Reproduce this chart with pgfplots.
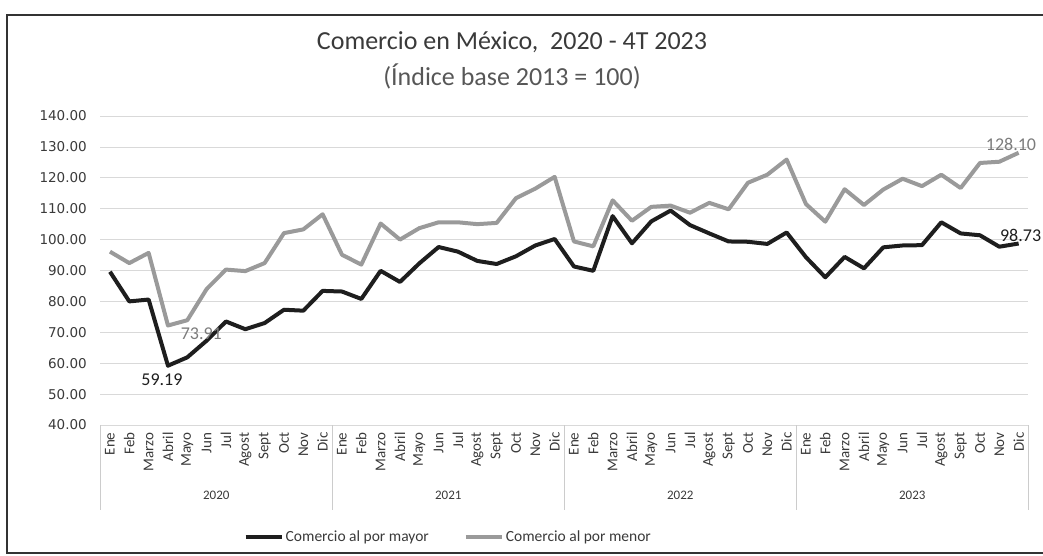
\documentclass[border=0pt]{standalone}
\usepackage{fontspec}
\setmainfont{Carlito}
\newfontfamily\dejavu{DejaVu Sans}
\usepackage{pgfplots}
\pgfplotsset{compat=1.18}
\definecolor{mayor}{HTML}{1E1E1E}
\definecolor{menor}{HTML}{9A9A9A}
\definecolor{txt}{HTML}{3A3A3A}
\begin{document}
\begin{tikzpicture}[x=1pt,y=1pt]
\useasboundingbox (0,0) rectangle (1043,-556);
\draw[line width=1.5pt, black!80] (1060,-15) -- (7,-15) -- (7,-553) -- (1060,-553);
\node[font=\fontsize{26}{30}\selectfont, text=txt] at (512,-42) {Comercio en México,\ \ 2020 - 4T 2023};
\node[font=\fontsize{26}{30}\selectfont, text=txt!85] at (512,-76) {(Índice base 2013 = 100)};
\begin{axis}[
  at={(100.3pt,-425pt)}, anchor=south west,
  scale only axis, width=928pt, height=309pt,
  xmin=-0.5, xmax=47.5, ymin=40, ymax=140,
  clip=false,
  axis line style={draw=none},
  major tick length=0pt,
  ymajorgrids, grid style={line width=0.8pt, gray!30},
  ytick={40,50,...,140},
  /pgf/number format/assume math mode=true,
  y tick label style={/pgf/number format/.cd, fixed, fixed zerofill, precision=2, /tikz/.cd,
    font=\dejavu\fontsize{13.5}{16}\selectfont, text=txt},
  yticklabel shift=10pt,
  xtick={0,...,47},
  xticklabels={Ene,Feb,Marzo,Abril,Mayo,Jun,Jul,Agost,Sept,Oct,Nov,Dic,
               Ene,Feb,Marzo,Abril,Mayo,Jun,Jul,Agost,Sept,Oct,Nov,Dic,
               Ene,Feb,Marzo,Abril,Mayo,Jun,Jul,Agost,Sept,Oct,Nov,Dic,
               Ene,Feb,Marzo,Abril,Mayo,Jun,Jul,Agost,Sept,Oct,Nov,Dic},
  x tick label style={rotate=90, anchor=east, font=\fontsize{15}{17}\selectfont, text=txt},
  xticklabel shift=4pt,
  legend style={at={(0.375,-0.362)}, anchor=center, draw=none, legend columns=2,
    font=\fontsize{15.5}{18}\selectfont, text=txt,
    /tikz/every even column/.append style={column sep=33pt}},
  legend image code/.code={\draw[#1, line width=4pt] (0pt,0pt) -- (36pt,0pt);},
]
\addplot[mayor, line width=4pt, line join=round] coordinates {
(0,89.6)(1,80.0)(2,80.6)(3,59.19)(4,61.9)(5,67.3)(6,73.5)(7,71.0)(8,73.0)(9,77.3)(10,77.0)(11,83.4)
(12,83.2)(13,80.8)(14,89.9)(15,86.3)(16,92.3)(17,97.6)(18,96.1)(19,93.1)(20,92.1)(21,94.6)(22,98.1)(23,100.2)
(24,91.3)(25,89.9)(26,107.6)(27,98.8)(28,105.9)(29,109.4)(30,104.7)(31,102.0)(32,99.4)(33,99.3)(34,98.6)(35,102.3)
(36,94.3)(37,87.8)(38,94.4)(39,90.7)(40,97.5)(41,98.1)(42,98.2)(43,105.6)(44,102.0)(45,101.4)(46,97.7)(47,98.73)};
\addlegendentry{Comercio al por mayor}
\addplot[menor, line width=4pt, line join=round] coordinates {
(0,96.1)(1,92.4)(2,95.7)(3,72.2)(4,73.91)(5,84.0)(6,90.3)(7,89.8)(8,92.4)(9,102.1)(10,103.3)(11,108.2)
(12,95.1)(13,91.9)(14,105.2)(15,100.0)(16,103.7)(17,105.6)(18,105.6)(19,105.0)(20,105.4)(21,113.4)(22,116.5)(23,120.3)
(24,99.4)(25,97.8)(26,112.7)(27,106.1)(28,110.6)(29,111.0)(30,108.7)(31,111.9)(32,109.8)(33,118.4)(34,121.0)(35,125.9)
(36,111.5)(37,105.8)(38,116.3)(39,111.2)(40,116.2)(41,119.7)(42,117.3)(43,121.0)(44,116.7)(45,124.8)(46,125.2)(47,128.10)};
\addlegendentry{Comercio al por menor}
% year separators and labels
\pgfplotsinvokeforeach{-0.5,11.5,23.5,35.5,47.5}{
  \draw[gray!40, line width=0.8pt] (axis cs:#1,40) -- ++(0pt,-85pt);
}
\node[font=\fontsize{13}{15}\selectfont, text=txt] at (axis cs:5.5,40) [yshift=-70pt] {2020};
\node[font=\fontsize{13}{15}\selectfont, text=txt] at (axis cs:17.5,40) [yshift=-70pt] {2021};
\node[font=\fontsize{13}{15}\selectfont, text=txt] at (axis cs:29.5,40) [yshift=-70pt] {2022};
\node[font=\fontsize{13}{15}\selectfont, text=txt] at (axis cs:41.5,40) [yshift=-70pt] {2023};
% data labels
\node[font=\fontsize{18}{20}\selectfont, text=mayor, anchor=north] at (axis cs:3,59.19) [xshift=-6pt, yshift=-5pt] {59.19};
\node[font=\fontsize{18}{20}\selectfont, text=menor!80!black, anchor=north west] at (axis cs:4,73.91) [xshift=-10pt, yshift=-4pt] {73.91};
\node[font=\fontsize{18}{20}\selectfont, text=mayor, anchor=south] at (axis cs:47,98.73) [xshift=2pt, yshift=-2pt] {98.73};
\node[font=\fontsize{18}{20}\selectfont, text=menor!80!black, anchor=south east] at (axis cs:47,128.10) [xshift=21pt, yshift=-1pt] {128.10};
\end{axis}
\end{tikzpicture}
\end{document}
